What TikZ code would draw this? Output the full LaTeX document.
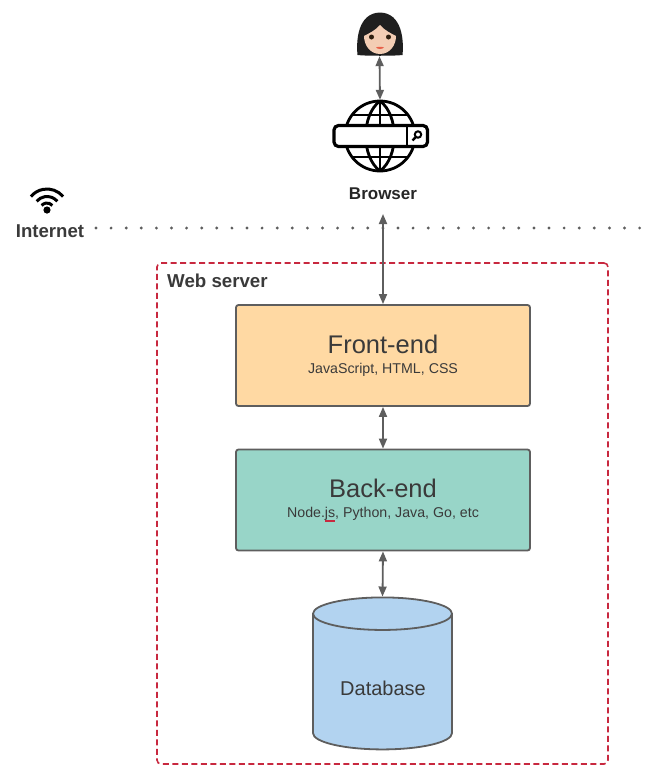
\documentclass[tikz,border=0pt]{standalone}
\usepackage{fontspec}
\setmainfont{Liberation Sans}
\usetikzlibrary{arrows.meta,shapes.geometric,calc}
\definecolor{inkgray}{HTML}{3A3A3A}
\definecolor{edgegray}{HTML}{5E5E5E}
\definecolor{frontfill}{HTML}{FFD9A3}
\definecolor{backfill}{HTML}{98D5C8}
\definecolor{dbfill}{HTML}{B2D3F0}
\definecolor{serverred}{HTML}{C8283F}
\definecolor{skin}{HTML}{F3CDB4}
\tikzset{
  layer/.style={draw=edgegray, line width=1.8pt, rounded corners=2.5pt, minimum width=294pt,
    minimum height=101pt, inner sep=0pt, align=center, text=inkgray},
  link/.style={draw=edgegray, line width=1.8pt, {Stealth[inset=0pt,length=10pt,width=8pt]}-{Stealth[inset=0pt,length=10pt,width=8pt]}},
  caption/.style={font=\bfseries\fontsize{17}{20}\selectfont, text=black!85, inner sep=0pt},
}
\newcommand{\bigtxt}{\fontsize{25.5}{29}\selectfont}
\newcommand{\smalltxt}{\fontsize{14.2}{16}\selectfont}
\begin{document}
\begin{tikzpicture}[x=1pt,y=-1pt]
  \useasboundingbox (0,0) rectangle (649,782);
  % web server frame
  \node[draw=serverred, dash pattern=on 6pt off 3.5pt, line width=1.6pt, rounded corners=4pt, minimum width=451pt, minimum height=501pt, inner sep=0pt] (server) at (382.5,513.5) {};
  \node[font=\bfseries\fontsize{18.7}{22}\selectfont, text=inkgray, anchor=west, inner sep=0pt] (serverlabel) at (167,281) {Web server};
  % layers
  \node[layer, fill=frontfill] (front) at (383,355.5) {\bigtxt Front-end\\[8pt]\smalltxt JavaScript, HTML, CSS};
  \node[layer, fill=backfill] (back) at (383,500) {\bigtxt Back-end\\[8pt]\smalltxt Node.js, Python, Java, Go, etc};
  \draw[serverred, line width=1.1pt] (325,521) -- (335,521);
  \node[cylinder, shape border rotate=90, shape aspect=0.4, draw=edgegray, line width=1.8pt, fill=dbfill, minimum width=139pt, minimum height=152pt, inner sep=0pt, font=\fontsize{19}{22}\selectfont] (db) at (382.5,682) {\phantom{Database}};
  \node[text=inkgray, font=\fontsize{20}{23}\selectfont, inner sep=0pt] (dblabel) at (383,688) {Database};
  % woman
  \node[minimum width=45pt, minimum height=44pt, inner sep=0pt] (woman) at (379.5,34) {};
  \fill[black!88] (357.5,55) .. controls (356,40) and (358,13) .. (380,12.5) .. controls (402,13) and (404,40) .. (402.5,55) .. controls (395,56) and (365,56) .. cycle;
  \fill[skin] (380,54) .. controls (370,54) and (364,45) .. (364,36) .. controls (368,34) and (376,30) .. (380,25) .. controls (384,30) and (392,34) .. (396,36) .. controls (396,45) and (390,54) .. (380,54) -- cycle;
  \fill[black!75!brown] (371.5,37) circle (2.5pt) (388.5,37) circle (2.5pt);
  \fill[red!55!brown!80] (376,47.5) .. controls (378,46.5) and (382,46.5) .. (384,47.5) .. controls (382,49.5) and (378,49.5) .. cycle;
  % globe
  \node[circle, minimum size=72pt, inner sep=0pt] (globe) at (380,136) {};
  \begin{scope}[line width=2.8pt, black]
    \draw (globe) circle (35pt);
    \draw (globe.north) -- (globe.south);
    \draw (380,101) .. controls (361,115) and (361,157) .. (380,171);
    \draw (380,101) .. controls (399,115) and (399,157) .. (380,171);
    \draw (353,115) -- (407,115) (353,157) -- (407,157);
    \draw[fill=white, line width=3.2pt, rounded corners=4.5pt] (334,125.5) rectangle (427.5,146.5);
    \draw (407,125.5) -- (407,146.5);
    \draw[line width=2pt] (418,134.5) circle (3.2pt);
    \draw[line width=2.4pt] (415.8,137) -- (412.5,140.5);
  \end{scope}
  \node[caption] (browser) at (383,194) {Browser};
  % internet
  \coordinate (wifi) at (47,210);
  \fill[black] (wifi) circle (3.6pt);
  \foreach \r in {7,13.5,21}
    \draw[black, line width=3pt] ($(wifi)+(-40:\r)$) arc[start angle=-40, end angle=-140, radius=\r];
  \node[font=\bfseries\fontsize{18.6}{22}\selectfont, text=inkgray, inner sep=0pt] (internet) at (50,231) {Internet};
  \coordinate (dotsstart) at (96,228);
  \coordinate (dotsend) at (640,228);
  \draw[edgegray, line width=3.2pt, line cap=round, dash pattern=on 0pt off 15.1pt] (dotsstart) -- (dotsend);
  % links
  \draw[link] (woman.south) -- (globe.north);
  \coordinate (browserlink) at (383,214);
  \draw[link] (browserlink) -- (front.north);
  \draw[link] (front.south) -- (back.north);
  \draw[link] (back.south) -- (db.top);
\end{tikzpicture}
\end{document}
